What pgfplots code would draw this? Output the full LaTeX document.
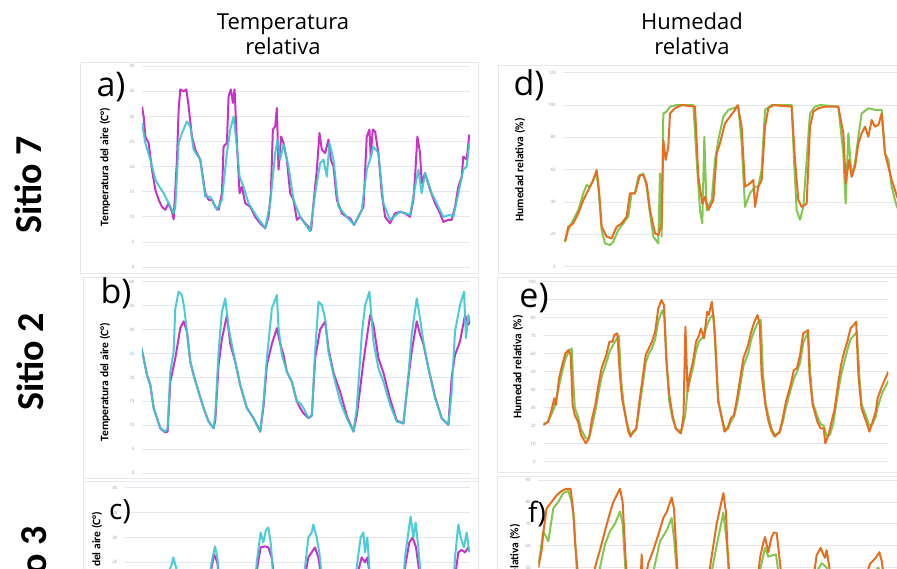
\documentclass[border=0pt]{standalone}
\usepackage{fontspec}
\setmainfont{Open Sans}
\newfontfamily\carlito{Carlito}
\usepackage{pgfplots}
\pgfplotsset{compat=1.18}

\definecolor{mag}{RGB}{200,50,200}
\definecolor{cya}{RGB}{60,200,210}
\definecolor{grn}{RGB}{130,200,80}
\definecolor{org}{RGB}{230,110,30}
\definecolor{gridc}{RGB}{226,231,240}
\definecolor{tickc}{RGB}{150,160,180}
\definecolor{framec}{RGB}{232,232,236}

\pgfplotsset{panel/.style={
  scale only axis, anchor=south west,
  axis line style={draw=none}, xtick=\empty, major tick length=0pt,
  ymajorgrids, grid style={gridc, line width=0.7pt},
  yticklabel style={font=\fontsize{4.5}{5}\selectfont, text=tickc, xshift=-4pt},
  /pgf/number format/assume math mode=true,
  every axis plot/.append style={line width=2pt, line join=round, no marks},
}}

\begin{document}
\begin{tikzpicture}[x=1pt,y=1pt]
\useasboundingbox (0,0) rectangle (897,569);
\clip (0,0) rectangle (897,569);

% panel frames
\draw[framec, line width=0.8pt] (80,296) rectangle (478,507);
\draw[framec, line width=0.8pt] (83,91) rectangle (478,292);
\draw[framec, line width=0.8pt] (83,-50) rectangle (478,88);
\draw[framec, line width=0.8pt] (498,296) rectangle (910,504);
\draw[framec, line width=0.8pt] (497,97) rectangle (910,292);
\draw[framec, line width=0.8pt] (497,-50) rectangle (910,93);

% a) Sitio 7 temperatura
\begin{axis}[panel, at={(142pt,302pt)}, width=328pt, height=200.7pt,
  xmin=185, xmax=1170, ymin=0, ymax=40, ytick={0,5,...,40}]
\addplot[mag] coordinates {(185,32)(190,30)(195,26)(205,24.7)(215,19.4)(225,15.4)(235,13.4)(245,12)(255,11.4)(265,12.7)(275,11)(280,9.5)(290,21.4)(295,31.4)(300,35.4)(310,35)(318,35.4)(325,32)(335,26)(345,23.4)(360,21.4)(375,14.7)(385,13.4)(395,13.4)(405,12)(415,11.4)(425,14.7)(430,24)(440,24.7)(445,34)(452,35.4)(458,32.7)(463,35.4)(470,24.7)(478,14.7)(485,16)(495,12.7)(510,12)(525,10)(540,8.7)(555,7.7)(565,10)(572,14.7)(578,27.4)(585,28)(590,31.7)(595,19.4)(603,26)(610,24.7)(620,21.4)(630,14.7)(640,13.4)(650,9.4)(660,10)(675,8.7)(693,7.4)(700,12.7)(710,19.4)(718,26.7)(725,23.4)(735,22.7)(745,25.4)(752,21.4)(760,20)(770,13.4)(785,10.7)(800,10)(810,9.7)(822,8.4)(835,10)(850,12)(860,26)(868,27.4)(872,22)(878,27.4)(885,27)(895,22.7)(905,14.7)(915,10)(930,8.7)(945,10.7)(960,11)(975,10.7)(990,10)(1000,13.4)(1005,18)(1012,26)(1020,22.7)(1025,16.7)(1035,18.7)(1050,15.4)(1065,12.7)(1080,10.7)(1090,9)(1105,9.4)(1115,9.4)(1125,12)(1135,16)(1145,18)(1150,22)(1160,21.4)(1168,26.4)};
\addplot[cya, opacity=0.92] coordinates {(185,28.7)(195,24.7)(210,21.4)(225,17.4)(240,15.7)(250,14.7)(265,12.7)(280,10.7)(285,12)(295,24.7)(305,26.7)(320,29)(330,28)(340,23.4)(360,21.4)(375,14)(390,14)(410,11.4)(425,13.4)(440,22.7)(450,27.4)(460,30)(470,24)(478,18)(490,16)(505,12.7)(530,10)(555,7.7)(570,12.7)(585,22.7)(592,25.4)(600,21.4)(610,24.4)(625,20)(640,13.4)(660,10)(690,7.1)(705,14.7)(720,20.7)(730,21.4)(740,18)(748,24.7)(760,21.4)(775,12)(800,10)(822,8.4)(845,11.4)(860,19.4)(870,21.4)(880,24)(895,22.7)(910,12.7)(930,9.4)(960,11)(990,10.4)(1005,16)(1015,19.4)(1025,14.7)(1035,18.7)(1055,14.7)(1075,12)(1090,10)(1110,10.4)(1120,10)(1135,14.7)(1150,19.4)(1160,20)(1168,24.7)};
\end{axis}

% b) Sitio 2 temperatura
\begin{axis}[panel, at={(142pt,95.7pt)}, width=328pt, height=191.7pt,
  xmin=185, xmax=1170, ymin=0, ymax=40, ytick={0,5,...,40}]
\addplot[mag] coordinates {(180,27.1)(190,24)(200,20.5)(210,18.4)(220,13.6)(230,11.5)(240,9.4)(255,8.5)(262,8.7)(270,19.1)(285,24)(300,30.3)(310,31.7)(320,29.6)(330,23.3)(340,20.5)(355,17)(370,13.6)(385,10.8)(400,9.4)(405,11)(415,22.6)(425,28)(440,33)(450,27)(465,23.3)(480,18.4)(500,13.6)(520,11.5)(540,8.7)(550,14)(560,22.6)(575,27)(590,30.3)(600,27)(610,24.7)(620,21.2)(635,19.1)(650,15)(660,13.6)(670,12.5)(685,11.5)(695,12)(705,24)(720,30)(735,31.7)(745,26)(760,21)(780,17)(800,12)(820,8.7)(830,12)(850,23.3)(870,33)(880,31)(895,24)(910,21)(930,15.5)(950,11)(970,10.4)(985,20)(995,25.4)(1010,31.7)(1020,29)(1030,27)(1045,22)(1065,16)(1085,11.5)(1105,10.1)(1115,20)(1125,24.7)(1140,27.5)(1155,33)(1165,31)(1172,32)};
\addplot[cya, opacity=0.92] coordinates {(180,27.1)(190,24)(200,20.5)(210,18.4)(220,13.6)(230,11.5)(240,9.4)(255,8.7)(262,9.4)(270,21.2)(280,25.4)(285,34.4)(295,37.9)(305,37.2)(312,34.4)(320,29.6)(330,23.3)(340,20.5)(355,17)(370,13.6)(385,10.8)(400,9.4)(405,12.2)(415,25.4)(425,33.7)(435,36.5)(445,30.3)(455,26.8)(465,23.3)(480,18.4)(500,13.6)(520,11.5)(540,8.7)(550,15)(560,24)(575,34.4)(590,37.2)(595,30.3)(605,24.7)(620,21.2)(635,19.1)(650,15)(660,14.6)(670,13.6)(685,11.5)(695,12.2)(705,25.4)(715,35.8)(725,35.1)(735,32.3)(745,25.4)(760,20.5)(780,15)(800,11.5)(820,8.7)(830,13.6)(845,28.9)(855,35.1)(868,37.9)(880,27.5)(895,21.9)(910,19.1)(930,14.3)(950,10.8)(970,10.4)(985,20.5)(995,28.9)(1010,36.5)(1020,32.3)(1030,27.5)(1045,21.9)(1065,15.7)(1085,11.5)(1105,10.1)(1115,17)(1125,29.6)(1140,35.1)(1152,37.9)(1158,28.2)(1165,33)(1172,31.7)};
\end{axis}

% c) Sitio 3 temperatura
\begin{axis}[panel, at={(125pt,-117.7pt)}, width=345pt, height=199pt,
  xmin=375, xmax=1410, ymin=0, ymax=40, ytick={0,5,...,40}]
\addplot[mag] coordinates {(375,18)(400,14)(430,11)(465,9)(480,12)(495,19)(505,22)(515,23)(520,23.5)(528,22)(540,19)(560,16)(580,13)(600,10)(612,11)(625,20)(635,24)(642,26.6)(652,25)(660,20)(680,16)(700,13)(730,10)(745,9.5)(760,17)(772,24)(782,28)(795,28.2)(805,28)(815,26)(825,21)(840,17)(870,13)(890,10)(900,11)(915,22)(925,26)(935,27)(945,28)(955,26)(968,20)(990,15)(1020,12)(1040,10)(1055,14)(1070,22)(1085,26)(1095,25)(1102,26)(1112,21)(1130,16)(1160,12)(1190,10)(1205,15)(1215,24)(1228,29)(1238,30)(1248,28)(1258,23)(1265,20)(1290,15)(1320,11)(1340,10)(1355,14)(1365,22)(1375,27)(1385,27.5)(1395,27)(1405,28)};
\addplot[cya, opacity=0.92] coordinates {(375,18)(400,14)(430,11)(465,9)(480,12)(495,20)(505,23)(515,24.5)(520,26)(528,24)(540,20)(560,16)(580,13)(600,10)(612,11)(625,20)(635,25)(645,28.2)(652,26)(660,20)(680,16)(700,13)(730,10)(745,9.5)(760,18)(772,26)(782,31)(790,29)(798,31.5)(805,32)(812,29)(820,22)(840,17)(870,13)(890,10)(900,11)(915,24)(925,30)(935,31)(940,32.6)(950,30)(958,27)(968,20)(990,15)(1020,12)(1040,10)(1055,14)(1070,24)(1082,30)(1090,31)(1095,27)(1102,30)(1110,22)(1130,16)(1160,12)(1190,10)(1205,16)(1215,26)(1225,31)(1232,34.2)(1240,30)(1247,33)(1255,28)(1265,20)(1290,15)(1320,11)(1340,10)(1355,15)(1365,26)(1375,32.6)(1382,30)(1392,28)(1400,31)(1408,27)};
\end{axis}

% d) Sitio 7 humedad
\begin{axis}[panel, at={(563.3pt,302.3pt)}, width=341.7pt, height=194pt,
  xmin=205, xmax=1230, ymin=0, ymax=120, ytick={0,20,...,120}]
\addplot[grn] coordinates {(210,15.5)(220,22.7)(235,29)(250,35)(265,45.4)(275,50.5)(285,49.5)(295,53.6)(305,58.8)(312,45)(320,22.7)(330,14.4)(345,13.4)(355,15.5)(370,22.7)(385,26.8)(400,31)(410,45.4)(420,45.4)(430,55.7)(445,57.7)(455,49.5)(465,33)(475,18.6)(490,14.4)(495,57.7)(500,18.6)(505,94.8)(515,95.9)(525,99)(545,100)(595,100)(605,66)(615,35)(622,26.8)(628,80.4)(635,35)(650,41.2)(660,66)(670,78.4)(685,92.8)(700,97)(715,98)(730,99)(740,76.3)(750,37)(765,45.4)(780,49.5)(790,49.5)(800,59.8)(810,97)(830,100)(890,100)(898,61.9)(905,35)(915,29)(925,37)(935,66)(945,94.8)(960,99)(975,100)(1030,99)(1045,70)(1052,39)(1060,82.5)(1070,55.7)(1080,64)(1090,80.4)(1100,94.8)(1120,98)(1140,97)(1160,97)(1170,70)(1180,66)(1190,49.5)(1200,41.2)(1206,37)(1215,34)(1230,30)};
\addplot[org] coordinates {(210,15.5)(220,24.7)(235,26.8)(250,33)(265,41.2)(280,47.4)(295,53.6)(305,59.8)(312,47.4)(320,24.7)(335,18.6)(350,17.5)(365,24.7)(380,26.8)(395,31)(405,45.4)(420,45.4)(435,56.7)(445,56.7)(455,51.5)(465,35)(480,20.6)(490,19.6)(500,26.8)(505,78.4)(512,66)(520,74.2)(525,94.8)(540,98)(560,100)(600,99)(610,55.7)(622,39)(630,43.3)(640,35)(655,41.2)(665,70)(675,76.3)(690,88.7)(705,92.8)(720,97)(728,100)(740,86.6)(750,49.5)(765,51.5)(775,53.6)(780,37)(790,49.5)(800,53.6)(810,86.6)(820,98)(835,100)(890,99)(900,66)(910,41.2)(920,37)(935,39)(945,86.6)(955,95.9)(970,98)(990,99)(1030,99)(1045,82.5)(1052,51.5)(1062,66)(1070,55.7)(1080,61.9)(1090,76.3)(1100,82.5)(1110,86.6)(1120,80.4)(1130,90.7)(1140,86.6)(1150,87.6)(1160,94.8)(1170,70)(1180,61.9)(1190,53.6)(1200,47.4)(1206,43.3)(1215,40)(1230,36)};
\end{axis}

% e) Sitio 2 humedad
\begin{axis}[panel, at={(543.3pt,107.3pt)}, width=345pt, height=180pt,
  xmin=145, xmax=1240, ymin=0, ymax=100, ytick={0,10,...,100}]
\addplot[grn] coordinates {(145,21)(160,22)(170,26)(180,30)(195,42)(205,50)(215,57)(225,61)(235,63)(240,45)(245,30)(255,25)(265,18)(280,13)(290,13)(300,20)(310,28)(320,38)(330,47)(345,55)(355,61)(370,66)(385,70)(392,45)(400,32)(410,22)(422,15)(430,16)(440,18)(450,30)(460,42)(470,55)(480,60)(490,63)(500,68)(510,78)(522,84)(530,80)(538,50)(545,33)(555,24)(565,19)(575,17)(585,18)(595,25)(603,40)(610,45)(620,52)(630,62)(640,67)(655,70)(665,76)(675,80)(685,82)(692,60)(700,35)(710,25)(720,19)(730,18)(740,22)(750,25)(760,32)(770,42)(780,53)(795,60)(805,68)(815,73)(825,77)(835,79)(842,50)(850,33)(860,25)(870,18)(880,15)(895,16)(905,22)(915,30)(930,40)(940,46)(950,50)(960,55)(970,66)(985,72)(992,50)(1000,33)(1015,25)(1025,21)(1035,20)(1045,14)(1055,15)(1065,21)(1080,38)(1090,48)(1100,55)(1110,62)(1120,68)(1130,70)(1140,72)(1148,48)(1155,32)(1170,25)(1180,20)(1190,21)(1200,25)(1206,30)(1220,38)(1240,45)};
\addplot[org] coordinates {(145,20.4)(160,22.2)(170,27.8)(180,35.2)(185,31.5)(195,46.3)(205,53.7)(215,60.2)(225,62)(232,59.3)(238,31.5)(245,25.9)(255,22.2)(265,14.8)(280,10.2)(290,13)(300,24.1)(310,31.5)(320,42.6)(330,51.9)(345,59.3)(355,66.7)(365,66.7)(370,70.4)(380,71.3)(388,48.1)(395,35.2)(405,25.9)(415,16.7)(422,13.9)(430,16.7)(440,18.5)(450,33.3)(460,46.3)(470,59.3)(480,63)(490,66.7)(500,72.2)(510,85.2)(520,89.8)(528,87)(535,57.4)(545,37)(555,25.9)(565,18.5)(575,16.7)(582,15.7)(590,25.9)(596,75)(603,38.9)(610,48.1)(620,55.6)(630,66.7)(640,70.4)(645,74.1)(655,68.5)(665,83.3)(670,81.5)(680,88.9)(690,70.4)(700,33.3)(710,25.9)(720,16.7)(730,18.5)(740,24.1)(750,25.9)(760,35.2)(770,46.3)(780,57.4)(795,64.8)(805,72.2)(815,77.8)(825,81.5)(832,75.9)(838,48.1)(850,31.5)(860,22.2)(870,16.7)(880,13.9)(895,16.7)(905,24.1)(915,33.3)(930,42.6)(940,50.9)(950,51.9)(960,59.3)(970,71.3)(985,73.1)(990,48.1)(1000,31.5)(1015,22.2)(1025,18.5)(1035,18.5)(1040,10.2)(1050,14.8)(1060,22.2)(1070,29.6)(1080,42.6)(1090,53.7)(1100,61.1)(1110,66.7)(1120,74.1)(1130,75.9)(1138,77.8)(1145,48.1)(1155,29.6)(1170,22.2)(1180,16.7)(1190,22.2)(1200,27.8)(1206,35.2)(1220,42)(1240,50)};
\end{axis}

% f) Sitio 3 humedad
\begin{axis}[panel, at={(538.3pt,-108pt)}, width=361.7pt, height=197pt,
  xmin=175, xmax=1260, ymin=0, ymax=90, ytick={0,10,...,90}]
\addplot[grn] coordinates {(175,52)(180,55.7)(190,66.6)(205,62)(220,77)(235,80)(250,84)(265,85)(275,80)(282,72)(290,50)(300,35)(320,28)(340,30)(360,50)(375,60.6)(390,66.6)(405,70)(420,75.6)(428,70)(436,50)(450,33)(480,28)(500,38)(520,48)(540,62)(560,67)(575,72.6)(583,62)(592,45)(610,30)(640,22)(670,25)(695,48)(710,60)(730,75)(740,62)(748,45)(770,32)(800,28)(835,45)(855,59)(865,55)(880,55.7)(888,56)(895,48)(910,38)(970,28)(1010,48)(1025,52)(1040,50)(1050,44)(1100,32)(1170,45)(1195,50)(1205,46)(1220,38)(1260,30)};
\addplot[org] coordinates {(175,50)(185,58)(190,66)(200,77)(215,80)(230,83)(245,85)(260,86)(272,86)(280,75)(285,62)(295,45)(305,30)(320,22)(335,30)(345,50)(360,58)(380,69.5)(390,75)(400,80)(410,83)(420,86)(428,80)(432,68)(440,45)(455,30)(470,25)(480,35)(485,56)(490,38)(500,48)(505,52)(520,58)(535,65)(550,72.6)(562,76)(575,82)(582,77)(588,60)(595,42)(610,28)(640,18)(670,22)(690,50)(700,60)(710,70)(720,77)(730,84)(738,75)(742,60)(750,42)(770,30)(800,24)(830,40)(840,54.4)(848,60)(855,64)(865,57)(875,64)(882,66)(890,65.8)(898,55)(905,45)(930,30)(970,25)(1000,45)(1010,55.7)(1022,59)(1030,56)(1035,54.4)(1040,58)(1048,50)(1060,38)(1100,28)(1140,35)(1160,47)(1170,51.7)(1185,54)(1198,57)(1205,53)(1215,42)(1240,30)(1260,28)};
\end{axis}

% axis titles
\begin{scope}[every node/.style={rotate=90, font=\carlito\bfseries\fontsize{11.5}{12}\selectfont}]
\node at (105,402) {Temperatura del aire (C°)};
\node at (105,187) {Temperatura del aire (C°)};
\node at (97,-2) {Temperatura del aire (C°)};
\node at (520,399) {Humedad relativa (\%)};
\node at (518,202) {Humedad relativa (\%)};
\node at (515,-7) {Humedad relativa (\%)};
\end{scope}

% panel letters
\begin{scope}[every node/.style={font=\fontsize{34}{34}\selectfont}]
\node at (111,482) {a)};
\node at (116,276) {b)};
\node[font=\fontsize{28}{28}\selectfont] at (120,57) {c)};
\node at (529,484) {d)};
\node at (534,271) {e)};
\node[font=\fontsize{28}{28}\selectfont] at (537,55) {f)};
\end{scope}

% row labels
\begin{scope}[every node/.style={rotate=90, font=\carlito\bfseries\fontsize{38}{38}\selectfont}]
\node at (28,384) {Sitio 7};
\node at (30,207) {Sitio 2};
\node at (33,-6) {Sitio 3};
\end{scope}

% column headers
\node[align=center, font=\fontsize{22}{25}\selectfont] at (283,535) {Temperatura\\relativa};
\node[align=center, font=\fontsize{22}{25}\selectfont] at (692,535) {Humedad\\relativa};
\end{tikzpicture}
\end{document}
